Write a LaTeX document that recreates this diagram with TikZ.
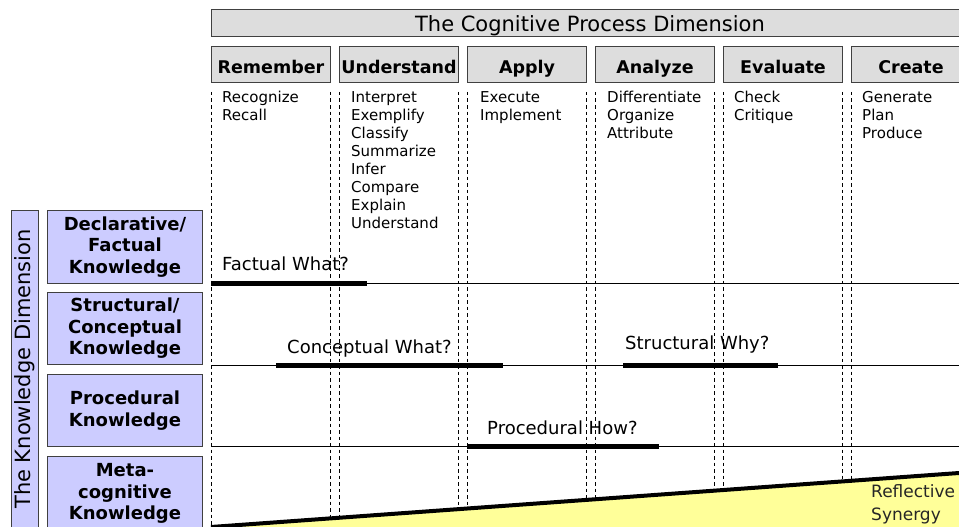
\documentclass[tikz,border=0pt]{standalone}
\usepackage{fontspec}
\setmainfont{DejaVu Sans}
\definecolor{hdrgray}{HTML}{DDDDDD}
\definecolor{kdimblue}{HTML}{CCCCFF}
\definecolor{synyellow}{HTML}{FFFF99}
\tikzset{
  hdrbox/.style={draw=black!75, line width=1pt, fill=hdrgray, inner sep=0pt,
    anchor=north west, minimum width=119pt, minimum height=36pt,
    text height=20pt, text depth=2pt,
    font=\fontsize{17.5}{20}\selectfont\bfseries},
  rowbox/.style={draw=black!75, line width=1pt, fill=kdimblue, inner sep=0pt,
    anchor=north west, minimum width=155pt, align=center,
    font=\fontsize{18}{21.5}\selectfont\bfseries},
  itemtext/.style={anchor=north west, inner sep=0pt, align=left,
    font=\fontsize{15}{18}\selectfont},
  qlabel/.style={anchor=west, inner sep=0pt, font=\fontsize{18}{21}\selectfont},
  colsep/.style={line width=0.8pt, dash pattern=on 3.5pt off 3pt},
  rowline/.style={line width=1pt},
  bar/.style={line width=5pt}
}
\begin{document}
\begin{tikzpicture}[x=1pt, y=-1pt]
\useasboundingbox (0,0) rectangle (959,527);
\clip (0,0) rectangle (959,527);

\node[hdrbox, minimum width=757pt, minimum height=27pt, text height=19pt, text depth=2pt,
  font=\fontsize{21}{24}\selectfont] (title) at (211,9) {The Cognitive Process Dimension};
\foreach \i/\name in {0/Remember,1/Understand,2/Apply,3/Analyze,4/Evaluate,5/Create}
  {\node[hdrbox] (col\i) at (211+128*\i,46) {\name};}

\foreach \i in {0,...,5} {\draw[colsep] (211+128*\i,92) -- (211+128*\i,527);}
\foreach \i in {0,...,5} {\draw[colsep] (330+128*\i,92) -- (330+128*\i,527);}

\node[itemtext] (items0) at (222,91) {Recognize\\Recall};
\node[itemtext] (items1) at (351,91) {Interpret\\Exemplify\\Classify\\Summarize\\Infer\\Compare\\Explain\\Understand};
\node[itemtext] (items2) at (480,91) {Execute\\Implement};
\node[itemtext] (items3) at (607,91) {Differentiate\\Organize\\Attribute};
\node[itemtext] (items4) at (734,91) {Check\\Critique};
\node[itemtext] (items5) at (862,91) {Generate\\Plan\\Produce};

\node[rowbox, rotate=90, anchor=center, minimum width=318pt, minimum height=27pt,
  font=\fontsize{21}{24}\selectfont] (kdim) at (24.5,369) {The Knowledge Dimension};
\node[rowbox, minimum height=73pt] (declarative) at (47,210) {Declarative/\\Factual\\Knowledge};
\node[rowbox, minimum height=72pt] (structural) at (47,292) {Structural/\\Conceptual\\Knowledge};
\node[rowbox, minimum height=72pt] (procedural) at (47,374) {Procedural\\Knowledge};
\node[rowbox, minimum height=74pt] (metacog) at (47,456) {Meta-\\cognitive\\Knowledge};

\foreach \y in {283,365,446} {\draw[rowline] (211,\y) -- (959,\y);}
\draw[bar] (211,283) -- (367,283);
\draw[bar] (276,365) -- (503,365);
\draw[bar] (623,365) -- (778,365);
\draw[bar] (467,446) -- (659,446);

\node[qlabel] (factual) at (222,264) {Factual What?};
\node[qlabel] (conceptual) at (287,349) {Conceptual What?};
\node[qlabel] (whystruct) at (625,345) {Structural Why?};
\node[qlabel] (howproc) at (487,428) {Procedural How?};

\fill[synyellow] (211,527) -- (959,473) -- (959,527) -- cycle;
\draw[line width=4pt] (211,527) -- (959,473);
\node[itemtext, anchor=west, text=black!85, font=\fontsize{17}{23}\selectfont]
  (synergy) at (871,504) {Reflective\\Synergy};

\end{tikzpicture}
\end{document}
